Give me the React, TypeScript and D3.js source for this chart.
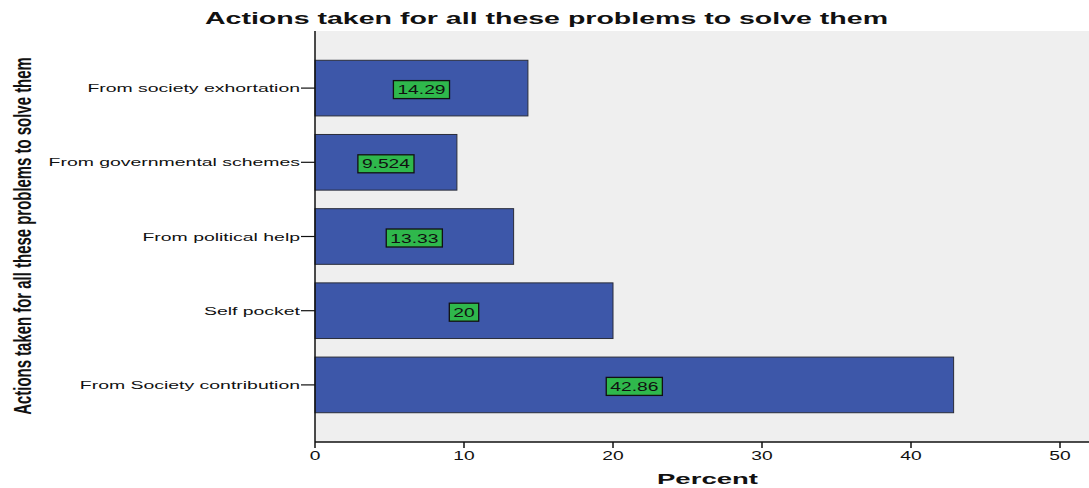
import React, { useEffect, useRef } from "react";
import * as d3 from "d3";

const categories = [
  "From society exhortation",
  "From governmental schemes",
  "From political help",
  "Self pocket",
  "From Society contribution",
];
const percents = [14.29, 9.524, 13.33, 20, 42.86];
const valueLabels = ["14.29", "9.524", "13.33", "20", "42.86"];
const xTicks = [0, 10, 20, 30, 40, 50];

const W = 1089;
const H = 488;
const plotLeft = 315;
const plotTop = 31;
const plotBottom = 442;
const plotRight = 1095;
const SX = 1.48; // horizontal stretch of the reference's glyphs
const SX_CAT = 1.69;
const FONT = "Liberation Sans, Arial, sans-serif";

export default function App() {
  const ref = useRef<SVGSVGElement>(null);

  useEffect(() => {
    const svg = d3.select(ref.current!);
    svg.selectAll("*").remove();

    const x = d3.scaleLinear().domain([0, 50]).range([plotLeft, 1060]);
    const y = d3
      .scaleBand<string>()
      .domain(categories)
      .range([plotTop + 20, plotBottom - 20])
      .paddingInner(0.25)
      .paddingOuter(0.125);

    svg
      .append("rect")
      .attr("x", plotLeft)
      .attr("y", plotTop)
      .attr("width", plotRight - plotLeft)
      .attr("height", plotBottom - plotTop)
      .attr("fill", "#efefef");

    // bars
    svg
      .selectAll("rect.bar")
      .data(categories)
      .enter()
      .append("rect")
      .attr("class", "bar")
      .attr("x", x(0))
      .attr("y", (d) => y(d)!)
      .attr("width", (d, i) => x(percents[i]) - x(0))
      .attr("height", y.bandwidth())
      .attr("fill", "#3d57a9")
      .attr("stroke", "#2a2d3a")
      .attr("stroke-width", 1);

    // value labels
    const labelG = svg
      .selectAll("g.lab")
      .data(categories)
      .enter()
      .append("g")
      .attr("class", "lab")
      .attr(
        "transform",
        (d, i) => `translate(${x(percents[i] / 2)},${y(d)! + y.bandwidth() / 2 + 1.5})`
      );
    labelG.each(function (d, i) {
      const g = d3.select(this);
      const inner = g.append("g").attr("transform", `scale(${SX},1)`);
      const t = inner
        .append("text")
        .attr("text-anchor", "middle")
        .attr("dy", "0.36em")
        .attr("font-family", FONT)
        .attr("font-size", 13)
        .attr("fill", "#111")
        .text(valueLabels[i]);
      const w = (t.node() as SVGTextElement).getComputedTextLength() * SX;
      g.insert("rect", "g")
        .attr("x", -w / 2 - 4)
        .attr("y", -9)
        .attr("width", w + 8)
        .attr("height", 18)
        .attr("fill", "#2fb84c")
        .attr("stroke", "#111")
        .attr("stroke-width", 1.3);
    });

    // y axis
    svg
      .append("line")
      .attr("x1", plotLeft)
      .attr("x2", plotLeft)
      .attr("y1", plotTop)
      .attr("y2", plotBottom)
      .attr("stroke", "#111")
      .attr("stroke-width", 1.5);
    const yt = svg
      .selectAll("g.ytick")
      .data(categories)
      .enter()
      .append("g")
      .attr("transform", (d) => `translate(0,${y(d)! + y.bandwidth() / 2})`);
    yt.append("line")
      .attr("x1", plotLeft - 14)
      .attr("x2", plotLeft)
      .attr("stroke", "#111")
      .attr("stroke-width", 1.2);
    yt.append("g")
      .attr("transform", `translate(${plotLeft - 15},0) scale(${SX_CAT},1)`)
      .append("text")
      .attr("dy", "0.36em")
      .attr("text-anchor", "end")
      .attr("font-family", FONT)
      .attr("font-size", 11.5)
      .attr("fill", "#111")
      .text((d) => d);

    // x axis
    svg
      .append("line")
      .attr("x1", plotLeft)
      .attr("x2", plotRight)
      .attr("y1", plotBottom)
      .attr("y2", plotBottom)
      .attr("stroke", "#111")
      .attr("stroke-width", 1.5);
    const xt = svg
      .selectAll("g.xtick")
      .data(xTicks)
      .enter()
      .append("g")
      .attr("transform", (d) => `translate(${x(d)},${plotBottom})`);
    xt.append("line").attr("y1", 0).attr("y2", 6).attr("stroke", "#111").attr("stroke-width", 1.5);
    xt.append("g")
      .attr("transform", `translate(0,18) scale(${SX},1)`)
      .append("text")
      .attr("text-anchor", "middle")
      .attr("font-family", FONT)
      .attr("font-size", 13)
      .attr("fill", "#111")
      .text((d) => String(d));

    // titles
    svg
      .append("text")
      .attr("x", 546.5)
      .attr("y", 24)
      .attr("text-anchor", "middle")
      .attr("font-family", FONT)
      .attr("font-weight", "bold")
      .attr("font-size", 16.5)
      .attr("textLength", 683)
      .attr("lengthAdjust", "spacingAndGlyphs")
      .attr("fill", "#111")
      .text("Actions taken for all these problems to solve them");
    svg
      .append("text")
      .attr("x", 707.5)
      .attr("y", 484)
      .attr("text-anchor", "middle")
      .attr("font-family", FONT)
      .attr("font-weight", "bold")
      .attr("font-size", 15.5)
      .attr("textLength", 101)
      .attr("lengthAdjust", "spacingAndGlyphs")
      .attr("fill", "#111")
      .text("Percent");

    // rotated, condensed y-axis title
    const yTitleG = svg.append("g").attr("transform", "translate(31,236) rotate(-90)");
    const yTitleInner = yTitleG.append("g");
    const yTitle = yTitleInner
      .append("text")
      .attr("text-anchor", "middle")
      .attr("font-family", FONT)
      .attr("font-weight", "bold")
      .attr("font-size", 23)
      .attr("fill", "#111")
      .text("Actions taken for all these problems to solve them");
    const natural = (yTitle.node() as SVGTextElement).getComputedTextLength();
    yTitleInner.attr("transform", `scale(${358 / natural},1)`);
  }, []);

  return (
    <svg
      ref={ref}
      width={W}
      height={H}
      style={{ position: "absolute", left: 0, top: 0, background: "#fff" }}
    />
  );
}
